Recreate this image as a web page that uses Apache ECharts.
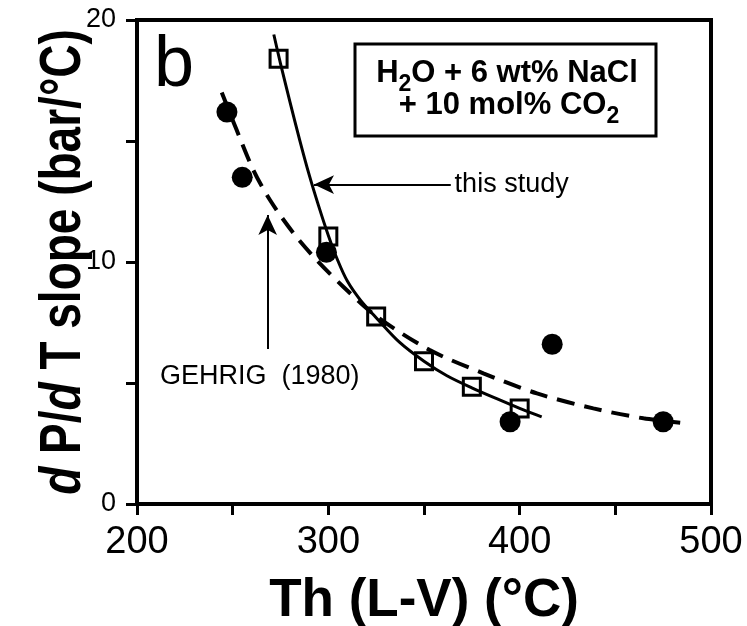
<!DOCTYPE html>
<html>
<head>
<meta charset="utf-8">
<script src="https://cdn.jsdelivr.net/npm/echarts@6/dist/echarts.min.js"></script>
<style>
  html, body { margin: 0; padding: 0; background: #fff; }
  #chart { width: 747px; height: 626px; }
</style>
</head>
<body>
<div id="chart"></div>
<script>
const FONT = '"Liberation Sans", Arial, Helvetica, sans-serif';

// Gehrig (1980) measurements: Th (°C) and dP/dT slope (bar/°C)
const gehrigTh    = [247, 255, 299, 395, 417, 475];
const gehrigSlope = [16.2, 13.5, 10.4, 3.4, 6.6, 3.4];

// this study
const studyTh    = [274, 300, 325, 350, 375, 400];
const studySlope = [18.4, 11.05, 7.75, 5.9, 4.85, 3.95];

// fitted curve through this study's points (solid)
const studyFitTh    = [271.5, 275, 280, 285, 290, 295, 300, 305, 310, 317, 325, 337, 350, 362, 375, 388, 400, 411.5];
const studyFitSlope = [19.4, 18.2, 16.6, 15.05, 13.6, 12.3, 11.1, 10.05, 9.2, 8.4, 7.7, 6.7, 5.9, 5.3, 4.8, 4.35, 3.95, 3.6];

// fitted curve through Gehrig's points (dashed)
const gehrigFitTh    = [244.3, 252.1, 260.8, 269.5, 281.7, 293.9, 307.8, 324.4, 353, 381, 409, 438.5, 464.7, 483.9];
const gehrigFitSlope = [17.0, 15.45, 13.8, 12.56, 11.2, 10.08, 8.98, 7.8, 6.36, 5.4, 4.57, 3.95, 3.54, 3.36];

// axis ranges: [min, max, interval]
const xRange = [200, 500, 100];
const yRange = [0, 20, 10];

// annotation arrows and labels (data coordinates)
const studyArrow    = [[364, 13.2], [292.5, 13.2]];
const gehrigArrow   = [[268.3, 6.4], [268.3, 11.94]];
const studyLabelAt  = [366, 13.2];
const gehrigLabelAt = [212, 5.25];

const zip = (xs, ys) => xs.map((x, i) => [x, ys[i]]);

function axisBase(range, labelStyle) {
  return {
    type: 'value',
    min: range[0], max: range[1], interval: range[2],
    axisLine: { show: true, onZero: false, lineStyle: { color: '#000', width: 4 } },
    axisTick: { show: true, length: 11, lineStyle: { color: '#000', width: 3 } },
    minorTick: { show: true, splitNumber: 2, length: 11, lineStyle: { color: '#000', width: 3 } },
    splitLine: { show: false },
    axisLabel: labelStyle
  };
}

const chart = echarts.init(document.getElementById('chart'));

const xAxis = axisBase(xRange, { color: '#000', fontFamily: FONT, fontSize: 38, margin: 20 });
xAxis.name = 'Th (L-V) (°C)';
xAxis.nameLocation = 'middle';
xAxis.nameGap = 71;
xAxis.nameTextStyle = { color: '#000', fontFamily: FONT, fontSize: 53, fontWeight: 'bold' };

const yAxis = axisBase(yRange, { color: '#000', fontFamily: FONT, fontSize: 27, margin: 21, padding: [8, 0, 0, 0] });

chart.setOption({
  animation: false,
  backgroundColor: '#fff',
  grid: {
    left: 137, right: 36, top: 20, bottom: 122,
    outerBoundsMode: 'none', containLabel: false,
    show: true, borderColor: '#000', borderWidth: 4
  },
  xAxis: xAxis,
  yAxis: yAxis,
  series: [
    {
      name: 'Gehrig fit',
      type: 'line',
      data: zip(gehrigFitTh, gehrigFitSlope),
      smooth: 0.3,
      showSymbol: false,
      silent: true,
      lineStyle: { color: '#000', width: 4, type: [18, 10] },
      z: 2
    },
    {
      name: 'this study fit',
      type: 'line',
      data: zip(studyFitTh, studyFitSlope),
      smooth: 0.3,
      showSymbol: false,
      silent: true,
      lineStyle: { color: '#000', width: 3 },
      z: 3,
      markLine: {
        silent: true,
        symbol: ['none', 'arrow'],
        symbolSize: [14, 20],
        label: { show: false },
        lineStyle: { color: '#000', width: 2, type: 'solid' },
        data: [
          [{ coord: studyArrow[0] }, { coord: studyArrow[1] }],
          [{ coord: gehrigArrow[0] }, { coord: gehrigArrow[1] }]
        ]
      }
    },
    {
      name: 'this study',
      type: 'scatter',
      data: zip(studyTh, studySlope),
      symbol: 'rect',
      symbolSize: 17,
      itemStyle: { color: 'rgba(0,0,0,0)', borderColor: '#000', borderWidth: 3, opacity: 1 },
      z: 4
    },
    {
      name: 'GEHRIG (1980)',
      type: 'scatter',
      data: zip(gehrigTh, gehrigSlope),
      symbol: 'circle',
      symbolSize: 21,
      itemStyle: { color: '#000', opacity: 1 },
      z: 5
    }
  ]
});

// panel letter, composition box, axis title and curve annotations
const p1 = chart.convertToPixel({ gridIndex: 0 }, studyLabelAt);
const p2 = chart.convertToPixel({ gridIndex: 0 }, gehrigLabelAt);
const boxRich = {
  m: { fontFamily: FONT, fontSize: 31, fontWeight: 'bold', lineHeight: 30, verticalAlign: 'top', fill: '#000' },
  s: { fontFamily: FONT, fontSize: 23, fontWeight: 'bold', lineHeight: 38, verticalAlign: 'bottom', fill: '#000' }
};
const titleRich = {
  i: { fontFamily: FONT, fontSize: 46, fontWeight: 'bold', fontStyle: 'italic', fill: '#000' },
  n: { fontFamily: FONT, fontSize: 46, fontWeight: 'bold', fill: '#000' }
};

chart.setOption({
  graphic: [
    {
      type: 'text', x: 154, y: 30, silent: true,
      style: { text: 'b', fontFamily: FONT, fontSize: 72, fill: '#000', align: 'left', verticalAlign: 'top' }
    },
    {
      type: 'rect', silent: true,
      shape: { x: 355, y: 44, width: 301, height: 92 },
      style: { fill: 'none', stroke: '#000', lineWidth: 3 }
    },
    {
      type: 'text', x: 507, y: 58, silent: true,
      style: { text: '{m|H}{s|2}{m|O + 6 wt% NaCl}', rich: boxRich, align: 'center', verticalAlign: 'top' }
    },
    {
      type: 'text', x: 509, y: 90, silent: true,
      style: { text: '{m|+ 10 mol% CO}{s|2}', rich: boxRich, align: 'center', verticalAlign: 'top' }
    },
    {
      type: 'text', x: 64, y: 262, rotation: Math.PI / 2, scaleY: 1.25, silent: true,
      style: { text: '{i|d}{n| P/}{i|d}{n| T slope (bar/°C)}', rich: titleRich, align: 'center', verticalAlign: 'middle' }
    },
    {
      type: 'text', x: p1[0], y: p1[1], silent: true,
      style: { text: 'this study', fontFamily: FONT, fontSize: 27, fill: '#000', align: 'left', verticalAlign: 'middle' }
    },
    {
      type: 'text', x: p2[0], y: p2[1], silent: true,
      style: { text: 'GEHRIG  (1980)', fontFamily: FONT, fontSize: 27, fill: '#000', align: 'left', verticalAlign: 'middle' }
    }
  ]
});
</script>
</body>
</html>
